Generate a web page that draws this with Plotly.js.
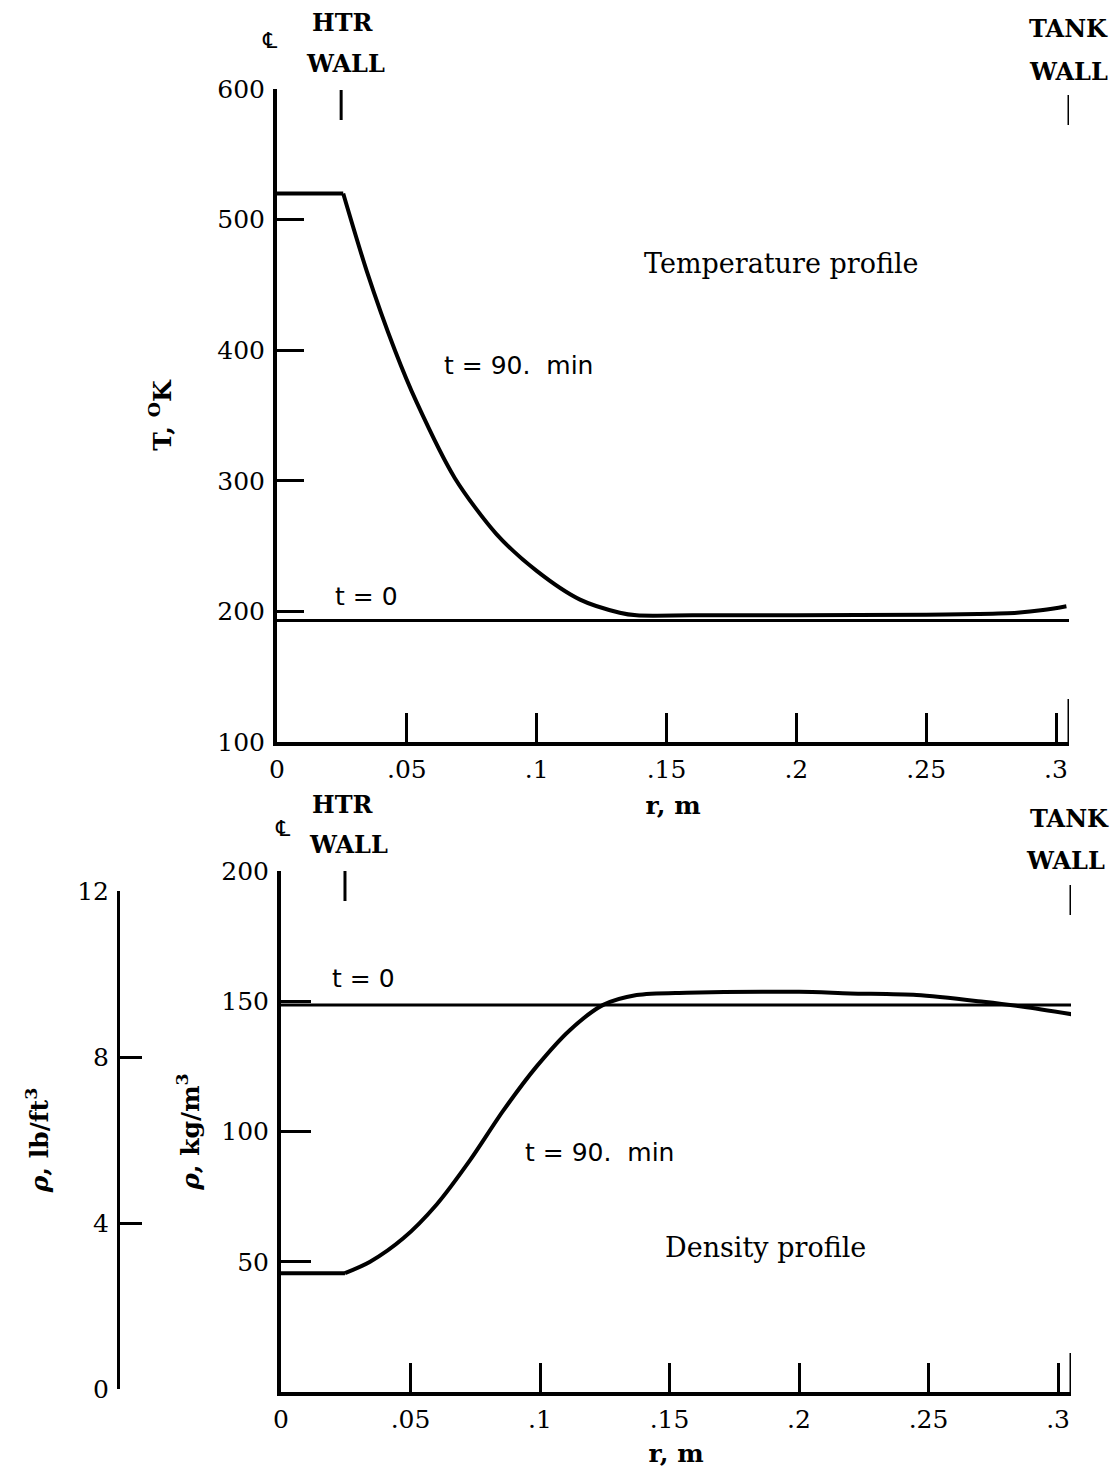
<!DOCTYPE html>
<html>
<head>
<meta charset="utf-8">
<script src="https://cdn.plot.ly/plotly-3.0.1.min.js"></script>
<style>html,body{margin:0;padding:0;background:#fff;}#chart{width:1117px;height:1472px;}</style>
</head>
<body>
<div id="chart"></div>
<script>
// ---- data ----
const rTemp90 = [0, 0.0255, 0.0345, 0.0454, 0.0538, 0.0685, 0.0846, 0.100, 0.1167, 0.132, 0.1385, 0.16, 0.20, 0.25, 0.27, 0.285, 0.295, 0.304];
const temp90 = [520, 520, 461, 400, 360, 302, 259, 231, 209, 199, 197, 197, 197, 197.5, 198, 199, 201, 204];
const rTemp0 = [0, 0.305];
const temp0 = [193, 193];

const rDens90 = [0, 0.0247, 0.0344, 0.0472, 0.0601, 0.073, 0.0858, 0.0987, 0.1116, 0.1244, 0.1373, 0.1566, 0.20, 0.2197, 0.2454, 0.2712, 0.2866, 0.3053];
const dens90 = [45.6, 45.6, 50.0, 59.0, 72, 89, 108, 125, 139, 148.6, 152.4, 153.3, 153.6, 153, 152.4, 149.8, 147.9, 145];
const rDens0 = [0, 0.305];
const dens0 = [148.6, 148.6];

const htrWall = 0.0247;   // r, m
const tankWall = 0.305;   // r, m

const xTickVals = [0, 0.05, 0.1, 0.15, 0.2, 0.25, 0.3];
const xTickText = ['0', '.05', '.1', '.15', '.2', '.25', '.3'];
const tTickVals = [100, 200, 300, 400, 500, 600];
const rhoTickVals = [50, 100, 150, 200];
const lbTickVals = [0, 4, 8, 12];

// ---- layout helpers ----
const W = 1117, H = 1472;
const px = x => x / W;
const py = y => 1 - y / H;
const SERIF = 'DejaVu Serif';
const SANS = 'DejaVu Sans';
const black = '#000';

const flatLine = {color: black, width: 4};
const curveLine = {color: black, width: 4, shape: 'spline', smoothing: 0.8};
const zeroLine = {color: black, width: 3};

// the flat plateau (up to the heater wall) is straight; the rest is a smooth curve
const traces = [
  {x: rTemp0, y: temp0, xaxis: 'x', yaxis: 'y', mode: 'lines', line: zeroLine, hoverinfo: 'skip'},
  {x: rTemp90.slice(0, 2), y: temp90.slice(0, 2), xaxis: 'x', yaxis: 'y', mode: 'lines', line: flatLine, hoverinfo: 'skip'},
  {x: rTemp90.slice(1), y: temp90.slice(1), xaxis: 'x', yaxis: 'y', mode: 'lines', line: curveLine, hoverinfo: 'skip'},
  {x: rDens0, y: dens0, xaxis: 'x2', yaxis: 'y2', mode: 'lines', line: zeroLine, hoverinfo: 'skip'},
  {x: rDens90.slice(0, 2), y: dens90.slice(0, 2), xaxis: 'x2', yaxis: 'y2', mode: 'lines', line: flatLine, hoverinfo: 'skip'},
  {x: rDens90.slice(1), y: dens90.slice(1), xaxis: 'x2', yaxis: 'y2', mode: 'lines', line: curveLine, hoverinfo: 'skip'},
  // carrier for the lb/ft^3 scale (invisible)
  {x: [0, 0], y: [lbTickVals[0], lbTickVals[lbTickVals.length-1]], xaxis: 'x2', yaxis: 'y3', mode: 'lines', line: {width: 0, color: 'rgba(0,0,0,0)'}, hoverinfo: 'skip'}
];

const tickFont = {family: SERIF, size: 25, color: black};
const titleFont = {family: SERIF, size: 25, color: black, weight: 'bold'};

const xCommon = {
  tickmode: 'array', tickvals: xTickVals, ticktext: xTickText,
  ticks: 'inside', ticklen: 29, tickwidth: 3, tickcolor: black,
  showline: true, linewidth: 4, linecolor: black, showgrid: false, zeroline: false,
  tickfont: tickFont, fixedrange: true, ticklabelstandoff: 2
};
const yCommon = {
  tickmode: 'array', ticks: 'inside', ticklen: 27, tickwidth: 3, tickcolor: black,
  showline: true, linewidth: 4, linecolor: black, showgrid: false, zeroline: false,
  tickfont: tickFont, fixedrange: true, ticklabelstandoff: 3
};

const layout = {
  width: W, height: H,
  margin: {l: 0, r: 0, t: 0, b: 0},
  paper_bgcolor: '#fff', plot_bgcolor: 'rgba(0,0,0,0)',
  showlegend: false,
  xaxis: Object.assign({}, xCommon, {
    domain: [px(277), px(1069)], range: [0, tankWall], anchor: 'y',
    title: {text: 'r, m', font: titleFont, standoff: 14}
  }),
  yaxis: Object.assign({}, yCommon, {
    domain: [py(742), py(89)], range: [100, 600], anchor: 'x', tickvals: tTickVals,
    title: {text: 'T, <sup>O</sup>K', font: titleFont, standoff: 40}
  }),
  xaxis2: Object.assign({}, xCommon, {
    domain: [px(281), px(1071)], range: [0, tankWall], anchor: 'y2',
    title: {text: 'r, m', font: titleFont, standoff: 12}
  }),
  yaxis2: Object.assign({}, yCommon, {
    domain: [py(1392), py(871)], range: [0, 200], anchor: 'x2', tickvals: rhoTickVals, ticklen: 30,
    title: {text: '<i>ρ</i>, kg/m<sup>3</sup>', font: titleFont, standoff: 16}
  }),
  yaxis3: Object.assign({}, yCommon, {
    domain: [py(1389), py(891)], range: [0, 12], anchor: 'free', position: px(118),
    tickvals: lbTickVals, ticklen: 22, linewidth: 3,
    title: {text: '<i>ρ</i>, lb/ft<sup>3</sup>', font: titleFont, standoff: 20}
  }),
  shapes: [
    // heater wall / tank wall markers above each plot
    {type: 'line', xref: 'x', yref: 'paper', x0: htrWall, x1: htrWall, y0: py(120), y1: py(90), line: {color: black, width: 3}},
    {type: 'line', xref: 'x', yref: 'paper', x0: tankWall, x1: tankWall, y0: py(125), y1: py(95), line: {color: black, width: 3}},
    {type: 'line', xref: 'x2', yref: 'paper', x0: htrWall, x1: htrWall, y0: py(901), y1: py(871), line: {color: black, width: 3}},
    {type: 'line', xref: 'x2', yref: 'paper', x0: tankWall, x1: tankWall, y0: py(915), y1: py(885), line: {color: black, width: 3}},
    // tall tick at the tank wall end of each r axis
    {type: 'line', xref: 'x', yref: 'paper', x0: tankWall, x1: tankWall, y0: py(742), y1: py(699), line: {color: black, width: 3}},
    {type: 'line', xref: 'x2', yref: 'paper', x0: tankWall, x1: tankWall, y0: py(1392), y1: py(1353), line: {color: black, width: 3}}
  ],
  annotations: []
};

function ann(text, x, y, font, extra) {
  layout.annotations.push(Object.assign({
    text: text, xref: 'paper', yref: 'paper', x: px(x), y: py(y),
    xanchor: 'center', yanchor: 'middle', showarrow: false, font: font
  }, extra || {}));
}
const boldSerif = {family: SERIF, size: 24, color: black, weight: 'bold'};
const serif = {family: SERIF, size: 27, color: black};
const sans = {family: SANS, size: 25, color: black};
const cl = {family: SANS, size: 22, color: black};

// top plot labels
ann('HTR', 343, 22, boldSerif);
ann('WALL', 345, 63, boldSerif);
ann('℄', 270, 40, cl);
ann('TANK', 1068, 29, boldSerif);
ann('WALL', 1068, 71, boldSerif);
ann('Temperature profile', 781, 263, serif);
ann('t = 90.\u00a0 min', 518, 365, sans);
ann('t = 0', 366, 596, sans);
// bottom plot labels
ann('HTR', 343, 804, boldSerif);
ann('WALL', 348, 844, boldSerif);
ann('℄', 283, 828, cl);
ann('TANK', 1069, 818, boldSerif);
ann('WALL', 1065, 861, boldSerif);
ann('t = 0', 363, 978, sans);
ann('t = 90.\u00a0 min', 599, 1152, sans);
ann('Density profile', 765, 1247, serif);

Plotly.newPlot('chart', traces, layout, {staticPlot: true, displayModeBar: false});
</script>
</body>
</html>
